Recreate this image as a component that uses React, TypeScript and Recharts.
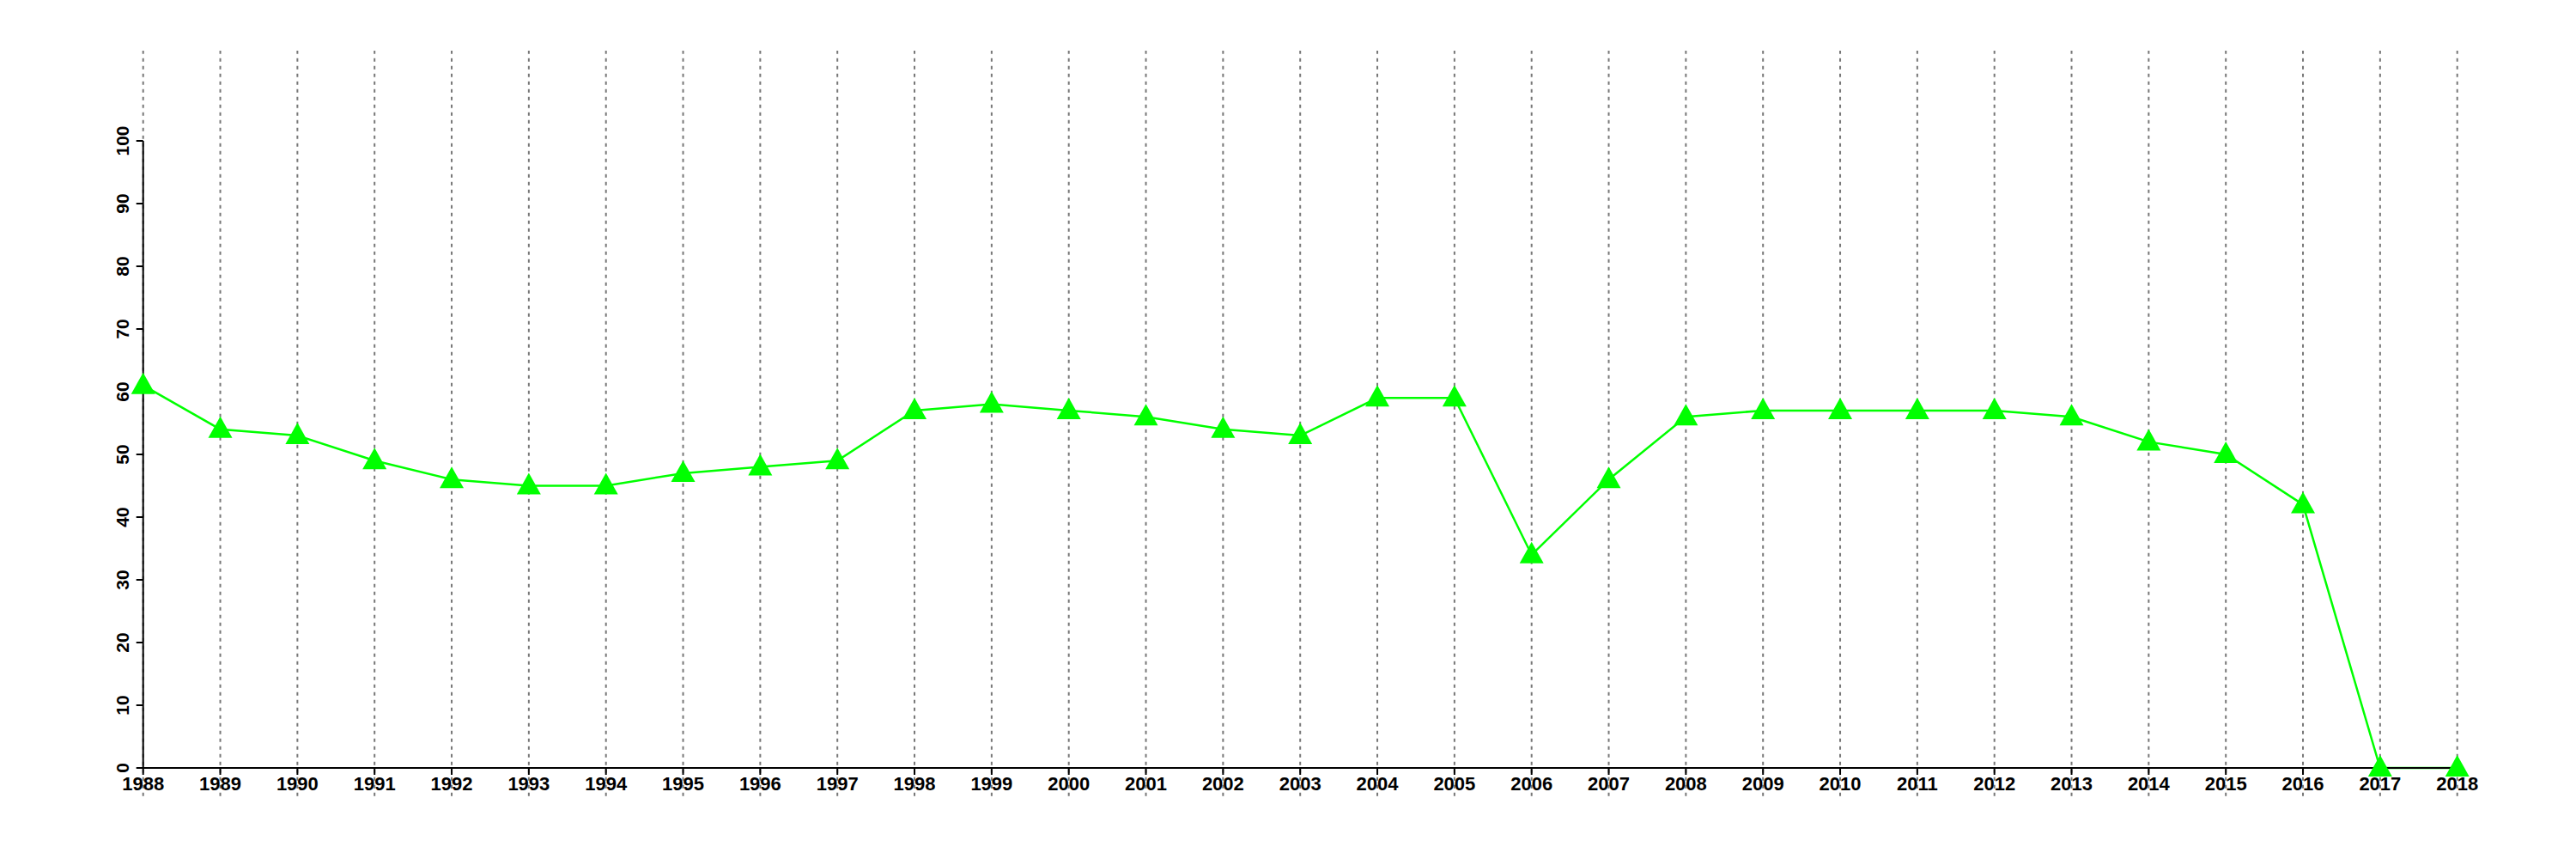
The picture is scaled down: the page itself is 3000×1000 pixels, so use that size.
import React from "react";
import { LineChart, Line, XAxis, YAxis, ReferenceLine } from "recharts";

const years = [
  1988, 1989, 1990, 1991, 1992, 1993, 1994, 1995, 1996, 1997, 1998, 1999,
  2000, 2001, 2002, 2003, 2004, 2005, 2006, 2007, 2008, 2009, 2010, 2011,
  2012, 2013, 2014, 2015, 2016, 2017, 2018,
];
const values = [
  61, 54, 53, 49, 46, 45, 45, 47, 48, 49, 57, 58, 57, 56, 54, 53, 59, 59, 34,
  46, 56, 57, 57, 57, 57, 56, 52, 50, 42, 0, 0,
];
const yTicks = [0, 10, 20, 30, 40, 50, 60, 70, 80, 90, 100];

// grid lines run a bit past the plot box, above and below
const gridLow = -4.5;
const gridHigh = 114.4;

const data = years.map((year, i) => ({ year, value: values[i] }));

const FONT = "'Liberation Sans', Arial, sans-serif";

const Triangle = (props: any) => {
  const { cx, cy } = props;
  if (cx == null || cy == null) return null;
  return (
    <polygon
      points={`${cx},${cy - 15} ${cx - 14},${cy + 10} ${cx + 14},${cy + 10}`}
      fill="#00ff00"
    />
  );
};

const YTick = (props: any) => {
  const { x, y, payload } = props;
  const bx = x - 6.5;
  return (
    <text
      x={bx}
      y={y}
      transform={`rotate(-90, ${bx}, ${y})`}
      textAnchor="middle"
      fontFamily={FONT}
      fontWeight="bold"
      fontSize={21}
      fill="#000"
    >
      {payload.value}
    </text>
  );
};

export default function App() {
  return (
    <div style={{ position: "absolute", left: 0, top: 0, background: "#fff" }}>
      <LineChart
        width={3000}
        height={1000}
        data={data}
        margin={{ top: 164, right: 138.3, bottom: 66, left: 106.7 }}
      >
        <XAxis
          dataKey="year"
          type="number"
          domain={[1988, 2018]}
          ticks={years}
          interval={0}
          height={40}
          tickSize={8}
          axisLine={{ stroke: "#000", strokeWidth: 2 }}
          tickLine={{ stroke: "#000", strokeWidth: 2 }}
          tick={{
            fill: "#000",
            fontSize: 22,
            fontWeight: "bold",
            fontFamily: FONT,
          }}
        />
        <YAxis
          type="number"
          domain={[0, 100]}
          ticks={yTicks}
          interval={0}
          width={60}
          tickSize={8}
          axisLine={{ stroke: "#000", strokeWidth: 2 }}
          tickLine={{ stroke: "#000", strokeWidth: 2 }}
          tick={<YTick />}
        />
        <Line
          type="linear"
          dataKey="value"
          stroke="#00ff00"
          strokeWidth={2.5}
          dot={<Triangle />}
          activeDot={false}
          isAnimationActive={false}
        />
        {years.map((yr) => (
          <ReferenceLine
            key={yr}
            segment={[
              { x: yr, y: gridLow },
              { x: yr, y: gridHigh },
            ]}
            ifOverflow="visible"
            stroke="#777"
            strokeWidth={2}
            strokeDasharray="4 5"
          />
        ))}
      </LineChart>
    </div>
  );
}
